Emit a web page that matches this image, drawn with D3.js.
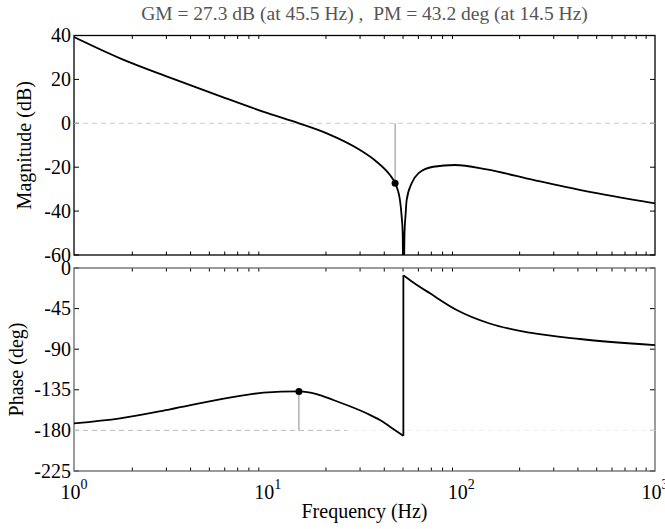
<!DOCTYPE html>
<meta charset="utf-8">
<style>
body { margin: 0; background: #fff; }
svg { font-family: "Liberation Serif", "Times New Roman", serif; }
.curve { fill: none; stroke: #000; stroke-width: 1.8px; stroke-linejoin: round; }
.stem { stroke: #888; stroke-width: 1px; }
.lbl { font-size: 20px; fill: #000; }
</style>
<svg width="665" height="529"></svg>
<script src="https://cdn.jsdelivr.net/npm/d3@7"></script>
<script>

// magnitude
var magFreq = [1, 1.73, 3.13, 5.67, 10, 14.5, 20.2, 30, 36.5, 42.8, 45.5, 48.2, 49.2, 49.8, 50.2, 50.9, 51.5, 52.2, 55.4, 60, 71.6, 92.7, 135, 235, 426, 1000];
var magDb   = [39.3, 29.6, 20.8, 12.4, 4.6, 0, -4.6, -12.2, -17.5, -23.6, -27.3, -35, -42.5, -50, -85, -50, -42, -35, -27.3, -22.8, -19.8, -19.0, -21.0, -25.8, -30.7, -36.5];

// phase, split at the notch jump
var phLowFreq  = [1, 1.73, 3.13, 5.67, 8.1, 9.5, 14.5, 17.9, 21.8, 32.4, 38, 42.8, 50.2];
var phLow      = [-172.2, -166.6, -156.6, -145.5, -140, -138.2, -136.8, -139.7, -146.3, -161, -168.5, -175.9, -186];
var phHighFreq = [50.2, 56.5, 68.9, 94.6, 140, 226, 410, 1000];
var phHigh     = [-8, -16, -28.1, -46.5, -61.5, -71.7, -78.7, -85.5];

var magTicks = [40, 20, 0, -20, -40, -60];
var phaseTicks = [0, -45, -90, -135, -180, -225];
var decades = [0, 1, 2, 3];

var gm = {f: 45.5, db: -27.3};
var pm = {f: 14.5, deg: -136.8};
var title = "GM = 27.3 dB (at 45.5 Hz) ,  PM = 43.2 deg (at 14.5 Hz)";

var svg = d3.select("svg");
var left = 74, right = 655;

var x = d3.scaleLog().domain([1, 1000]).range([left, right]);
var yMag = d3.scaleLinear().domain([-60, 40]).range([255, 35.5]);
var yPh = d3.scaleLinear().domain([-225, 0]).range([471, 268]);

// minor/major x tick positions
var minors = [];
[1, 10, 100].forEach(function(d) {
  for (var k = 2; k <= 9; k++) minors.push(d * k);
});

function panel(y, ticks, boxColor, id) {
  var top = y.range()[1], bottom = y.range()[0];
  var g = svg.append("g");

  g.append("clipPath").attr("id", id)
    .append("rect").attr("x", left).attr("y", top)
    .attr("width", right - left).attr("height", bottom - top);

  // x ticks top and bottom, inward
  minors.forEach(function(f) {
    var len = (f === 10 || f === 100) ? 6 : 3.5;
    g.append("line").attr("x1", x(f)).attr("x2", x(f))
      .attr("y1", bottom).attr("y2", bottom - len).attr("stroke", "#000");
    g.append("line").attr("x1", x(f)).attr("x2", x(f))
      .attr("y1", top).attr("y2", top + len).attr("stroke", "#000");
  });

  // y ticks left/right, inward, with labels
  ticks.forEach(function(t) {
    g.append("line").attr("x1", left).attr("x2", left + 5)
      .attr("y1", y(t)).attr("y2", y(t)).attr("stroke", "#000");
    g.append("line").attr("x1", right).attr("x2", right - 5)
      .attr("y1", y(t)).attr("y2", y(t)).attr("stroke", "#000");
    g.append("text").attr("class", "lbl")
      .attr("x", left - 3).attr("y", y(t) + 6.5)
      .attr("text-anchor", "end").text(t);
  });

  g.append("rect").attr("x", left).attr("y", top)
    .attr("width", right - left).attr("height", bottom - top)
    .attr("fill", "none").attr("stroke", boxColor).attr("stroke-width", 1.3);
  return g;
}

var gMag = panel(yMag, magTicks, "#000", "clipMag");
var gPh = panel(yPh, phaseTicks, "#666", "clipPh");

// reference lines
gMag.append("line").attr("x1", left).attr("x2", right)
  .attr("y1", yMag(0)).attr("y2", yMag(0))
  .attr("stroke", "#ccc").attr("stroke-dasharray", "5,4");
gPh.append("line").attr("x1", left).attr("x2", right)
  .attr("y1", yPh(-180)).attr("y2", yPh(-180))
  .attr("stroke", "#eee").attr("stroke-dasharray", "5,4");
gPh.append("line").attr("x1", left).attr("x2", x(25.6))
  .attr("y1", yPh(-180)).attr("y2", yPh(-180))
  .attr("stroke", "#bbb").attr("stroke-dasharray", "5,4");

// stems
gMag.append("line").attr("class", "stem")
  .attr("x1", x(gm.f)).attr("x2", x(gm.f))
  .attr("y1", yMag(0)).attr("y2", yMag(gm.db));
gPh.append("line").attr("class", "stem")
  .attr("x1", x(pm.f)).attr("x2", x(pm.f))
  .attr("y1", yPh(-180)).attr("y2", yPh(pm.deg));

// curves
var magLine = d3.line()
  .x(function(d) { return x(d[0]); })
  .y(function(d) { return yMag(d[1]); })
  .curve(d3.curveMonotoneX);

gMag.append("path").attr("class", "curve")
  .attr("clip-path", "url(#clipMag)")
  .datum(d3.zip(magFreq, magDb))
  .attr("d", magLine);

var phLine = d3.line()
  .x(function(d) { return x(d[0]); })
  .y(function(d) { return yPh(d[1]); })
  .curve(d3.curveMonotoneX);

gPh.append("path").attr("class", "curve")
  .datum(d3.zip(phLowFreq, phLow)).attr("d", phLine);
gPh.append("path").attr("class", "curve")
  .datum(d3.zip(phHighFreq, phHigh)).attr("d", phLine);
gPh.append("line").attr("class", "curve")
  .attr("x1", x(phLowFreq[phLowFreq.length - 1])).attr("x2", x(phHighFreq[0]))
  .attr("y1", yPh(phLow[phLow.length - 1])).attr("y2", yPh(phHigh[0]));

// markers
gMag.append("circle").attr("cx", x(gm.f)).attr("cy", yMag(gm.db)).attr("r", 3.5);
gPh.append("circle").attr("cx", x(pm.f)).attr("cy", yPh(pm.deg)).attr("r", 3.5);

// x tick labels 10^n
decades.forEach(function(n) {
  var t = svg.append("text").attr("class", "lbl")
    .attr("x", x(Math.pow(10, n))).attr("y", 499)
    .attr("text-anchor", "middle");
  t.append("tspan").text("10");
  t.append("tspan").attr("dy", -10).attr("font-size", 14).text(n);
});

// titles
svg.append("text").attr("x", (left + right) / 2).attr("y", 20)
  .attr("text-anchor", "middle").attr("font-size", 19.5).attr("fill", "#555")
  .style("white-space", "pre")
  .text(title);

svg.append("text").attr("class", "lbl")
  .attr("x", (left + right) / 2).attr("y", 518)
  .attr("text-anchor", "middle").text("Frequency (Hz)");

svg.append("text").attr("class", "lbl")
  .attr("transform", "translate(31," + ((35.5 + 255) / 2) + ") rotate(-90)")
  .attr("text-anchor", "middle").text("Magnitude (dB)");

svg.append("text").attr("class", "lbl")
  .attr("transform", "translate(23," + ((268 + 471) / 2) + ") rotate(-90)")
  .attr("text-anchor", "middle").text("Phase (deg)");

</script>
